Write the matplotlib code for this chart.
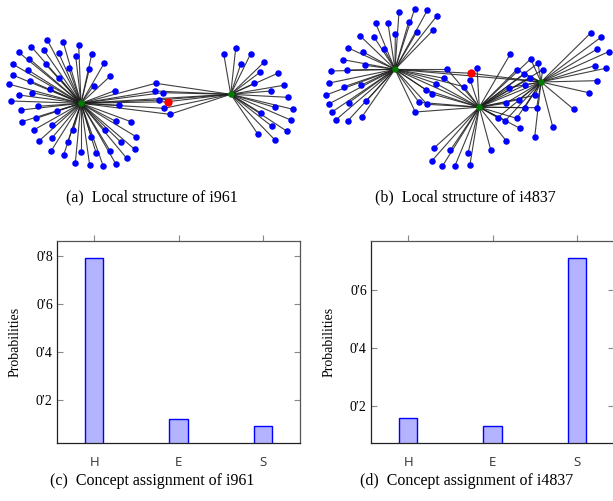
import matplotlib
matplotlib.use("Agg")
import matplotlib.pyplot as plt
from matplotlib.collections import LineCollection

# =========================
# DATA - bar panels
# =========================
concepts = ["H", "E", "S"]
probs_i961 = [0.79, 0.12, 0.09]
probs_i4837 = [0.16, 0.13, 0.71]
yticks_c = [0.2, 0.4, 0.6, 0.8]
yticks_d = [0.2, 0.4, 0.6]

# =========================
# DATA - network panels (node positions, pixel coords)
# =========================
# panel (a): i961
a_hub1 = (81.0, 103.3)
a_hub2 = (230.7, 94.3)
a_red = (167.7, 101.7)
a_leaves1 = [
    (47.3, 40), (63.3, 42.3), (78.7, 45.3), (31.3, 46.7), (43.7, 50), (58.7, 53),
    (75.7, 56), (91.7, 54.3), (18.7, 52.3), (29.3, 58.7), (45.7, 64.3), (68.7, 68),
    (89.3, 69.3), (104.3, 63), (13, 64.3), (28, 70), (59.3, 77.7), (110, 76.3),
    (12.7, 75), (30.3, 81), (50, 89), (93.7, 85.7), (9.3, 84.3), (19, 95),
    (32.3, 92.7), (114.7, 90.7), (11, 101), (38, 106.3), (118.7, 105.3), (21, 110),
    (57.3, 110.7), (36.3, 118.3), (115.7, 121.3), (131, 121.7), (21.7, 121.7),
    (52.3, 125), (33.7, 130), (73.3, 130), (105, 130), (136, 136.7), (39.3, 140.7),
    (52, 138), (91.3, 137), (120.7, 142), (67.7, 142), (134.7, 149.3), (51.3, 150.7),
    (81, 151.7), (96, 152.7), (110, 150.7), (63.7, 154.7), (126.7, 158.3),
    (75.3, 163), (89.7, 165.3), (103.3, 166.3), (116, 164.3),
]
a_shared = [(155.7, 83.3), (155.3, 91), (162.7, 92.7), (159.3, 100), (164, 108.3), (169.7, 114.3)]
a_leaves2 = [
    (223.7, 53.7), (235.7, 48.3), (250.7, 53.7), (240.7, 64.3), (264.3, 62),
    (260.3, 72), (277.7, 73.3), (254.3, 83.3), (283.7, 85.3), (271.3, 91),
    (287.7, 97.3), (274.7, 107.3), (293, 109.3), (261.3, 113.3), (290.7, 120),
    (272, 126.3), (287, 131.3), (258, 134.3), (275, 140),
]

# panel (b): i4837
b_hub_a = (395.0, 69.3)
b_hub_b = (479.3, 107.2)
b_hub_c = (541.0, 82.0)
b_red = (471.2, 73.3)
b_leaves_a = [
    (399, 11.7), (414.7, 8.7), (427.3, 10.3), (437, 15.7), (375.7, 23.3), (388, 23.3),
    (408.7, 22), (433.3, 30), (417, 31.7), (360.3, 36), (374, 37), (395.3, 34),
    (347.7, 47.7), (362.7, 51.7), (384, 49), (343.3, 59.7), (365.3, 65.3), (331, 71),
    (347.3, 70), (329.3, 83), (344, 86.7), (360.7, 85.3), (326, 95), (348.7, 102.7),
    (366, 101.3), (329.3, 103.7), (332, 112), (361.7, 117.3), (335.7, 120), (347.7, 121),
]
b_shared_ab = [
    (447.3, 69.3), (444.3, 78.3), (436.3, 83.7), (426.3, 90), (432.3, 94),
    (419, 102.3), (427, 104.3), (415.3, 112), (464, 86.7),
]
b_leaves_b = [
    (477, 68), (470.3, 80.3), (510.3, 54), (433.7, 148.3), (450.3, 150.3),
    (432, 160.7), (442.3, 166.3), (455, 165.7), (468, 153), (470, 164.5),
    (490.7, 149.7), (506, 140.5), (520, 128.3),
]
b_shared_bc = [
    (530.7, 59), (538, 63.3), (542.7, 69.7), (516.7, 69.7), (524, 74.3),
    (529.7, 78.3), (524.7, 85), (508.7, 87.7), (535, 95.3), (518.7, 99.7),
    (505.7, 103.3), (524.7, 107.7), (536.7, 107.7), (497.7, 117.7),
    (505.3, 120.7), (516.7, 118.3),
]
b_leaves_c = [
    (591, 32.7), (601.3, 37), (597.3, 49), (608.7, 51.7), (594.7, 65.7),
    (605.7, 68.3), (596.7, 80.7), (588.7, 92.7), (573.7, 109.3), (552.7, 126.7),
    (534.7, 137),
]

# =========================
# STYLE
# =========================
W, H = 613, 501
SERIF = ["Liberation Serif", "DejaVu Serif"]
SANS = ["Open Sans", "DejaVu Sans"]
BLUE = "#0000ff"
FILL = "#b3b3ff"
EDGE = "#1e1e1e"

fig = plt.figure(figsize=(W / 100, H / 100), dpi=100)

# =========================
# NETWORKS
# =========================
net = fig.add_axes([0, 0, 1, 1])
net.set_xlim(0, W)
net.set_ylim(H, 0)
net.axis("off")

segs = []
segs += [(a_hub1, p) for p in a_leaves1]
segs += [(a_hub1, p) for p in a_shared + [a_red, a_hub2]]
segs += [(a_hub2, p) for p in a_shared + [a_red]]
segs += [(a_hub2, p) for p in a_leaves2]

segs += [(b_hub_a, p) for p in b_leaves_a]
segs += [(b_hub_a, p) for p in b_shared_ab + [b_red, b_hub_b, b_hub_c]]
segs += [(b_hub_b, p) for p in b_shared_ab + b_leaves_b + b_shared_bc + [b_hub_c]]
segs += [(b_hub_c, p) for p in b_shared_bc + b_leaves_c + [b_red]]

net.add_collection(LineCollection(segs, colors=EDGE, linewidths=0.8, alpha=0.85, zorder=1))

blue_nodes = a_leaves1 + a_shared + a_leaves2 + b_leaves_a + b_shared_ab + b_leaves_b + b_shared_bc + b_leaves_c
net.scatter([p[0] for p in blue_nodes], [p[1] for p in blue_nodes], s=22, color=BLUE, lw=0, zorder=2)
hubs = [a_hub1, a_hub2, b_hub_a, b_hub_b, b_hub_c]
net.scatter([p[0] for p in hubs], [p[1] for p in hubs], s=22, color="#007a00", lw=0, zorder=3)
reds = [a_red, b_red]
net.scatter([p[0] for p in reds], [p[1] for p in reds], s=36, color="#ff0000", lw=0, zorder=3)

cap = dict(ha="center", va="center", family=SERIF, fontsize=11.5)
net.text(152, 197, "(a)  Local structure of i961", **cap)
net.text(465, 197, "(b)  Local structure of i4837", **cap)
net.text(152, 481, "(c)  Concept assignment of i961", **cap)
net.text(467, 481, "(d)  Concept assignment of i4837", **cap)

# =========================
# BAR PANELS
# =========================
def bar_panel(left_px, probs, yticks, ylim):
    ax = fig.add_axes([left_px / W, (H - 443) / H, 243 / W, 202 / H])
    x = list(range(len(concepts)))
    ax.bar(x, probs, width=0.22, color=FILL, edgecolor=BLUE, linewidth=1.0, zorder=2)
    ax.set_xlim(-0.44, 2.44)
    ax.set_ylim(*ylim)
    ax.set_xticks(x)
    ax.set_xticklabels(concepts, family=SANS, fontsize=9.5, color="#333333")
    ax.set_yticks(yticks)
    ax.set_yticklabels([f"{t:.1f}".replace(".", "\u2032") for t in yticks], family=SERIF, fontsize=10)
    ax.tick_params(axis="x", bottom=False, top=True, direction="out", length=4,
                   color="#888888", pad=5)
    ax.tick_params(axis="y", left=True, right=True, direction="in", length=4,
                   color="#888888", pad=3)
    for side in ["left", "bottom"]:
        ax.spines[side].set_color("#222222")
    for side in ["top", "right"]:
        ax.spines[side].set_color("#555555")
    for sp in ax.spines.values():
        sp.set_linewidth(0.9)
    ax.set_ylabel("Probabilities", family=SERIF, fontsize=10)
    ax.yaxis.set_label_coords(-0.148, 0.5)
    return ax

bar_panel(57, probs_i961, yticks_c, (0.021, 0.861))
bar_panel(371, probs_i4837, yticks_d, (0.073, 0.767))

fig.savefig("out.png", dpi=100)
